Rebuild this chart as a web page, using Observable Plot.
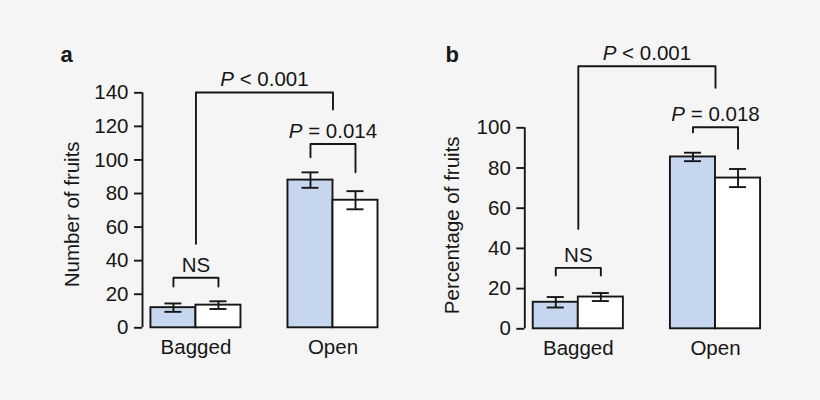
<!DOCTYPE html>
<html><head><meta charset="utf-8">
<script src="https://cdn.jsdelivr.net/npm/d3@7"></script>
<script src="https://cdn.jsdelivr.net/npm/@observablehq/plot@0.6"></script>
<style>
html,body{margin:0;padding:0;background:#f5f5f5;}
#wrap{display:flex;width:820px;height:400px;}
#wrap svg{display:block;}
</style></head><body><div id="wrap"></div>
<script>
// ---- data ----
const groups = ["Bagged", "Open"];
const seriesFills = ["#c6d6ee", "#ffffff"];

// panel a: number of fruits
const countMeanBlue = [12, 88];
const countErrBlue = [2.5, 4.6];
const countMeanWhite = [13.5, 76];
const countErrWhite = [2.3, 5.4];
const countTicks = [0, 20, 40, 60, 80, 100, 120, 140];
// bracket ends: [group, series] (series null = group centre)
const countBrackets = [
  {label: "NS", left: [0, 0], right: [0, 1], top: 29.8, leftEnd: 24.6, rightEnd: 24.6},
  {label: "P = 0.014", left: [1, 0], right: [1, 1], top: 109.5, leftEnd: 101.6, rightEnd: 92.6},
  {label: "P < 0.001", left: [0, null], right: [1, null], top: 140.2, leftEnd: 50, rightEnd: 130}
];

// panel b: percentage of fruits
const pctMeanBlue = [13.2, 85.5];
const pctErrBlue = [2.6, 2.1];
const pctMeanWhite = [15.8, 75];
const pctErrWhite = [2.0, 4.5];
const pctTicks = [0, 20, 40, 60, 80, 100];
const pctBrackets = [
  {label: "NS", left: [0, 0], right: [0, 1], top: 30.3, leftEnd: 26.5, rightEnd: 26.5},
  {label: "P = 0.018", left: [1, 0], right: [1, 1], top: 100.3, leftEnd: 97.7, rightEnd: 89.6},
  {label: "P < 0.001", left: [0, null], right: [1, null], top: 130.6, leftEnd: 49.7, rightEnd: 119.9}
];

// ---- drawing ----
const INK = "#161616";
const FONT = "'Liberation Sans', Arial, Helvetica, sans-serif";
const X_DOMAIN = [-0.39, 1.5];
const BAR_W = 0.3285;   // bar width in x units
const CAP = 0.062;      // half cap width in x units
const SW = 1.9;

function makePanel(cfg) {
  const bars = [];
  cfg.series.forEach((ser, s) => ser.mean.forEach((m, g) =>
    bars.push({g, s, mean: m, err: ser.err[g], fill: seriesFills[s]})));
  const center = d => d.g + (d.s - 0.5) * BAR_W;
  const xPos = ([g, s]) => s == null ? g : g + (s - 0.5) * BAR_W;
  const pts = cfg.brackets.flatMap(b => {
    const xl = xPos(b.left), xr = xPos(b.right);
    return [
      {k: b.label, x: xl, y: b.leftEnd}, {k: b.label, x: xl, y: b.top},
      {k: b.label, x: xr, y: b.top}, {k: b.label, x: xr, y: b.rightEnd}
    ];
  });
  const ymax = cfg.ticks[cfg.ticks.length - 1];
  const svg = Plot.plot({
    width: 410, height: 400,
    marginLeft: cfg.marginLeft, marginRight: cfg.marginRight,
    marginTop: cfg.marginTop, marginBottom: cfg.marginBottom,
    style: {background: "transparent", fontFamily: FONT, fontSize: "20.5px", color: INK},
    x: {type: "linear", domain: X_DOMAIN, axis: null},
    y: {domain: [0, ymax]},
    color: {type: "identity"},
    marks: [
      Plot.rect(bars, {x1: d => d.g + (d.s - 1) * BAR_W, x2: d => d.g + d.s * BAR_W,
        y1: 0, y2: "mean", fill: "fill", stroke: INK, strokeWidth: SW}),
      Plot.ruleX(bars, {x: center, y1: d => d.mean - d.err, y2: d => d.mean + d.err, stroke: INK, strokeWidth: SW}),
      Plot.ruleY(bars, {y: d => d.mean + d.err, x1: d => center(d) - CAP, x2: d => center(d) + CAP, stroke: INK, strokeWidth: SW}),
      Plot.ruleY(bars, {y: d => d.mean - d.err, x1: d => center(d) - CAP, x2: d => center(d) + CAP, stroke: INK, strokeWidth: SW}),
      Plot.line(pts, {x: "x", y: "y", z: "k", stroke: INK, strokeWidth: SW, curve: "linear"}),
      Plot.text(cfg.brackets, {x: b => (xPos(b.left) + xPos(b.right)) / 2, y: "top", text: "label",
        dy: -6, lineAnchor: "bottom", fill: INK, className: "ptext"}),
      Plot.ruleX([X_DOMAIN[0]], {y1: 0, y2: ymax, stroke: INK, strokeWidth: SW}),
      Plot.axisY({ticks: cfg.ticks, tickSize: 8, tickPadding: 6, label: null, stroke: INK, strokeWidth: SW, fill: INK}),
      Plot.text(groups, {x: (d, i) => i, y: 0, dy: 26, lineAnchor: "bottom", fill: INK}),
      Plot.text([cfg.yLabel], {frameAnchor: "left", rotate: -90, dx: cfg.yLabelDx, dy: cfg.yLabelDy,
        textAnchor: "middle", lineAnchor: "middle", fill: INK}),
      Plot.text([cfg.panel], {frameAnchor: "top-left", dx: cfg.panelDx, dy: cfg.panelDy,
        textAnchor: "start", lineAnchor: "bottom", fontWeight: "bold", fontSize: 22, fill: INK})
    ]
  });
  // italic "P" in the significance labels
  d3.select(svg).selectAll("g.ptext text").each(function () {
    const t = this.textContent;
    if (t.startsWith("P ")) {
      this.textContent = "";
      d3.select(this).append("tspan").attr("font-style", "italic").text("P");
      d3.select(this).append("tspan").text(t.slice(1));
    }
  });
  return svg;
}

const wrap = document.getElementById("wrap");
wrap.appendChild(makePanel({
  series: [{mean: countMeanBlue, err: countErrBlue}, {mean: countMeanWhite, err: countErrWhite}],
  ticks: countTicks, brackets: countBrackets,
  yLabel: "Number of fruits", panel: "a",
  marginLeft: 142, marginRight: 9, marginTop: 92.3, marginBottom: 72.7,
  yLabelDx: -70.3, yLabelDy: 4, panelDx: -82, panelDy: -30.6
}));
wrap.appendChild(makePanel({
  series: [{mean: pctMeanBlue, err: pctErrBlue}, {mean: pctMeanWhite, err: pctErrWhite}],
  ticks: pctTicks, brackets: pctBrackets,
  yLabel: "Percentage of fruits", panel: "b",
  marginLeft: 114.3, marginRight: 36.4, marginTop: 127.3, marginBottom: 71.7,
  yLabelDx: -72.6, yLabelDy: -3, panelDx: -79.3, panelDy: -65.6
}));
</script></body></html>
